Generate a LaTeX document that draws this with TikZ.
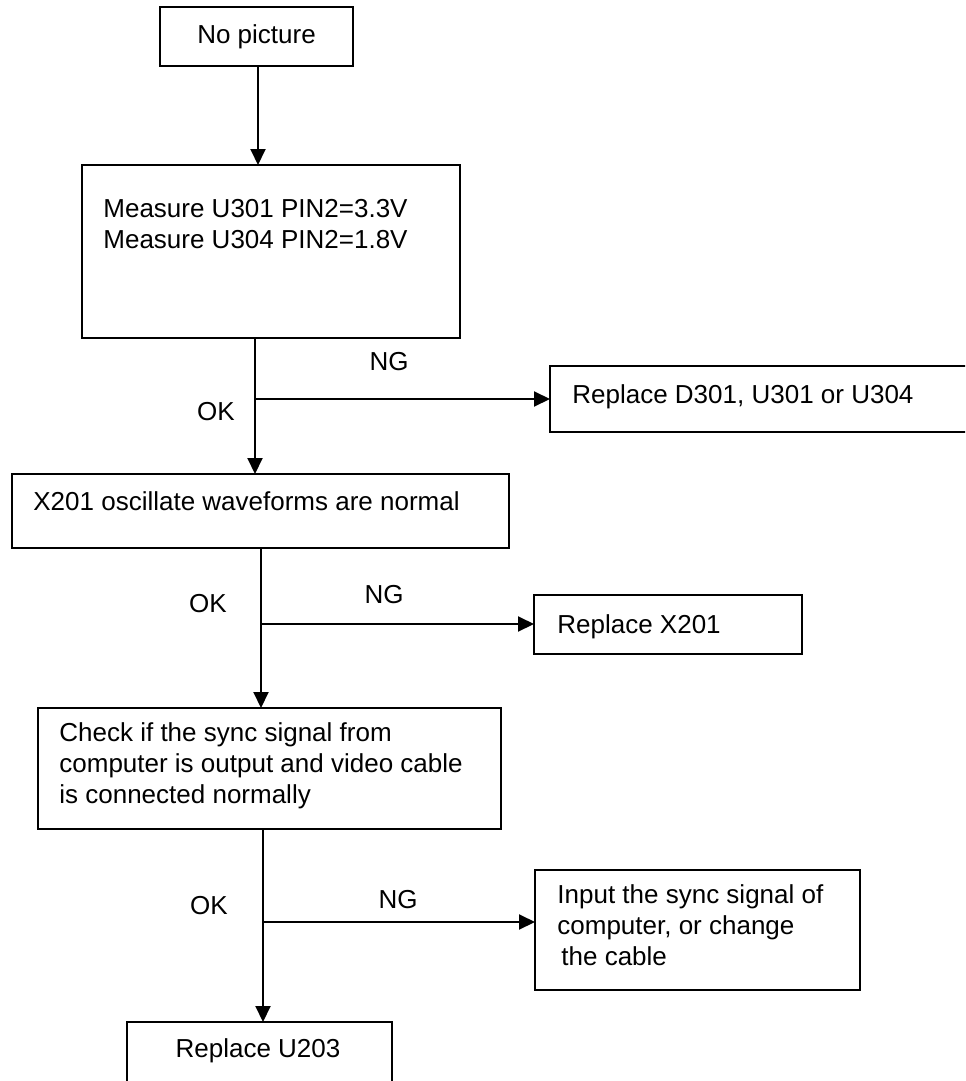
\documentclass[tikz,border=0pt]{standalone}
\usepackage{fontspec}
\setmainfont{Liberation Sans}
\usepackage{tikz}
\usetikzlibrary{arrows.meta}

\begin{document}
\begin{tikzpicture}[x=0.5pt, y=-0.5pt,
    font=\fontsize{13pt}{15.5pt}\selectfont,
    box/.style={draw, line width=1pt, inner sep=0pt, outer sep=0pt, anchor=north west},
    txt/.style={inner sep=0pt, anchor=base west, align=left},
    lbl/.style={inner sep=0pt, anchor=base},
    arr/.style={-{Triangle[length=8pt, width=7.5pt]}, line width=1pt}]
  \clip (0,0) rectangle (965,1081);

  \node[box, minimum width=96.5pt, minimum height=29.5pt] (nopic) at (160,7) {No picture};
  \node[box, minimum width=189pt, minimum height=86.5pt] (measure) at (82,165) {};
  \node[txt] (measuretxt) at (103,248) {Measure U301 PIN2=3.3V\\Measure U304 PIN2=1.8V};
  \node[box, minimum width=217.5pt, minimum height=33pt] (d301) at (550,366) {};
  \node[txt] (d301txt) at (572,403) {Replace D301, U301 or U304};
  \node[box, minimum width=248.5pt, minimum height=37pt] (x201) at (12,474) {};
  \node[txt] (x201txt) at (33,510) {X201 oscillate waveforms are normal};
  \node[box, minimum width=134pt, minimum height=29.5pt] (rx201) at (534,595) {};
  \node[txt] (rx201txt) at (557,633) {Replace X201};
  \node[box, minimum width=231.5pt, minimum height=60.5pt] (check) at (38,708) {};
  \node[txt] (checktxt) at (59,803) {Check if the sync signal from\\computer is output and video cable\\is connected normally};
  \node[box, minimum width=162.5pt, minimum height=60pt] (input) at (535,870) {};
  \node[txt] (inputtxt) at (557,965) {Input the sync signal of\\computer, or change\\\hspace{2pt}the cable};
  \node[box, minimum width=132.5pt, minimum height=40pt] (u203) at (127,1022) {};
  \node[lbl] (u203txt) at (258,1057) {Replace U203};

  \node[lbl] (ng1) at (389,370) {NG};
  \node[lbl] (ok1) at (216,420) {OK};
  \node[lbl] (ng2) at (384,603) {NG};
  \node[lbl] (ok2) at (208,612) {OK};
  \node[lbl] (ng3) at (398,908) {NG};
  \node[lbl] (ok3) at (209,914) {OK};

  \coordinate (t1) at (258,0);
  \coordinate (t2) at (255,0);
  \coordinate (t3) at (261,0);
  \coordinate (t4) at (263,0);
  \coordinate (b1) at (255,399);
  \coordinate (b2) at (261,624);
  \coordinate (b3) at (263,922);

  \draw[arr] (nopic.south -| t1) -- (measure.north -| t1);
  \draw[arr] (measure.south -| t2) -- (x201.north -| t2);
  \draw[arr] (b1) -- (b1 -| d301.west);
  \draw[arr] (x201.south -| t3) -- (check.north -| t3);
  \draw[arr] (b2) -- (b2 -| rx201.west);
  \draw[arr] (check.south -| t4) -- (u203.north -| t4);
  \draw[arr] (b3) -- (b3 -| input.west);
\end{tikzpicture}
\end{document}
